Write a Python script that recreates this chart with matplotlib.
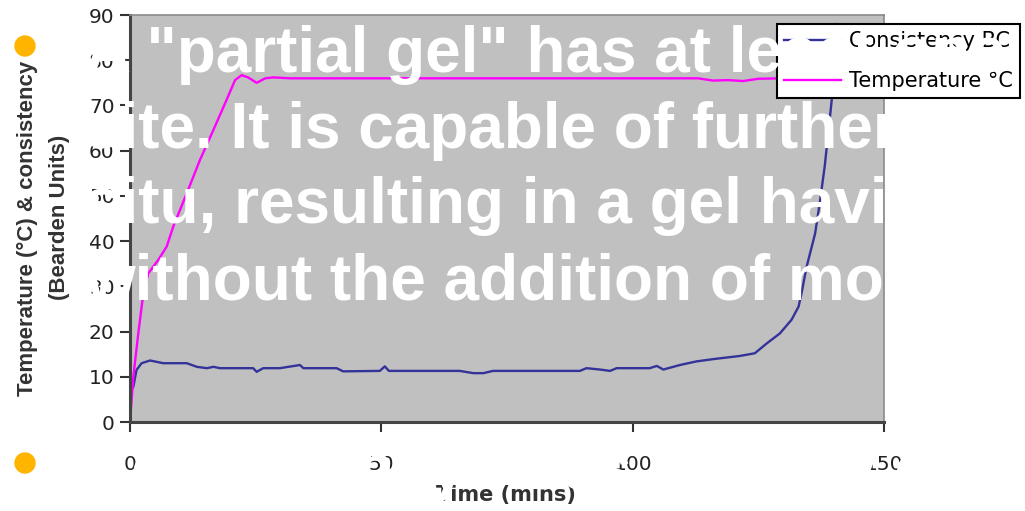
import matplotlib
matplotlib.use("Agg")
import matplotlib.pyplot as plt
from matplotlib.patches import Ellipse

# ---- data ----
temp_t = [0, 0.66, 1.65, 2.65, 3.65, 5.6, 7.3, 8.6, 11.3, 13.9, 16.6, 19.2, 20.9,
          22.2, 23.5, 25.2, 26.9, 28.5, 31.8, 60, 90, 113, 116, 119, 122, 125, 130, 140]
temp_v = [0, 10, 19.6, 28.4, 32.9, 35.8, 38.8, 43.2, 50.6, 57.9, 64.6, 71.2, 75.6,
          76.7, 76.2, 75.0, 76.0, 76.2, 76.0, 76.0, 76.0, 76.0, 75.5, 75.6, 75.4, 75.9, 76.0, 76.0]

cons_t = [0, 0.66, 1.3, 2.3, 4, 6.6, 11.3, 13.3, 15.3, 16.6, 17.9, 24.5, 25.2, 26.5,
          29.8, 33.8, 34.5, 41.1, 42.4, 49.7, 50.7, 51.5, 57.7, 65.6, 68.3, 70.3, 72.2,
          89.5, 90.8, 93.5, 95.5, 96.8, 103.4, 104.8, 106.1, 109.4, 112.7, 116.0, 119.0,
          121.3, 124.3, 126.7, 129.3, 131.6, 133.0, 133.6, 134.6, 136.3, 137.3, 138.2,
          138.9, 139.6, 140.4]
cons_v = [6.7, 7.8, 11.5, 13.0, 13.6, 13.0, 13.0, 12.2, 11.9, 12.2, 11.9, 11.9, 11.1, 11.9,
          11.9, 12.6, 11.9, 11.9, 11.2, 11.3, 12.3, 11.3, 11.3, 11.3, 10.8, 10.8, 11.3,
          11.3, 11.9, 11.6, 11.3, 11.9, 11.9, 12.4, 11.6, 12.6, 13.4, 13.9, 14.3,
          14.6, 15.2, 17.4, 19.6, 22.6, 25.5, 28.5, 34.3, 41.7, 49.1, 56.5,
          63.8, 71.2, 88]

x_ticks = [0, 50, 100, 150]
y_ticks = [0, 10, 20, 30, 40, 50, 60, 70, 80, 90]

bullet_lines = [
    'A "partial gel" has at least one unreacted cross-link',
    'site. It is capable of further cross-linking in',
    'situ, resulting in a gel having increased strength',
    'without the addition of more cross-linker.',
]
bullet2_text = 'Consistency rises sharply once gelation begins.'

W, H = 1025, 511
fig = plt.figure(figsize=(W / 100, H / 100), dpi=100)
fig.patch.set_facecolor("white")

# plot area (pixel box: x 130..884, y 15..422)
ax = fig.add_axes([130 / W, 1 - 422 / H, 754 / W, 407 / H])
ax.set_facecolor("#C0C0C0")
ax.plot(cons_t, cons_v, color="#333399", lw=1.7, label="Consistency BC")
ax.plot(temp_t, temp_v, color="#FF00FF", lw=1.7, label="Temperature °C")
ax.set_xlim(0, 150)
ax.set_ylim(0, 90)
ax.set_xticks(x_ticks)
ax.set_yticks(y_ticks)
ax.tick_params(axis="both", length=7, width=1.5, color="#333333", labelsize=14.5,
               labelcolor="#222222")
ax.tick_params(axis="y", pad=4)
ax.tick_params(axis="x", pad=17)
for side in ["left", "bottom"]:
    ax.spines[side].set_color("#444444")
    ax.spines[side].set_linewidth(2.2)
for side in ["top", "right"]:
    ax.spines[side].set_color("#8a8a8a")
    ax.spines[side].set_linewidth(1.2)

leg = ax.legend(loc="upper left", bbox_to_anchor=(777 / W, 1 - 24 / H),
                bbox_transform=fig.transFigure, frameon=True, fancybox=False,
                edgecolor="black", framealpha=1, labelspacing=0.95,
                handlelength=2.7, handletextpad=0.4, borderpad=0.35,
                borderaxespad=0, prop={"family": "DejaVu Sans", "size": 15})
leg.get_frame().set_linewidth(1.5)

# axis titles
fig.text(27 / W, 1 - 228 / H, "Temperature (°C) & consistency", rotation=90,
         ha="center", va="center", fontsize=16, weight="bold",
         family="Liberation Sans", color="#333333")
fig.text(60 / W, 1 - 217 / H, "(Bearden Units)", rotation=90,
         ha="center", va="center", fontsize=16, weight="bold",
         family="Liberation Sans", color="#333333")
fig.text(506 / W, 1 - 495 / H, "Time (mins)", ha="center", va="center",
         fontsize=15, weight="bold", family="DejaVu Sans", color="#333333")

# slide overlay: bullets and white text
for yb in [46, 463]:
    fig.patches.append(Ellipse((25 / W, 1 - yb / H), 20 / W, 20 / H,
                               transform=fig.transFigure, color="#FFB400", zorder=5))

baselines = [71.7, 148.3, 223.3, 300]
for yb, line in zip(baselines, bullet_lines):
    fig.text(85 / W, 1 - yb / H, line, ha="left", va="baseline",
             fontsize=46, weight="bold", family="Liberation Sans", color="white",
             zorder=10)
fig.text(85 / W, 1 - 489 / H, bullet2_text, ha="left", va="baseline",
         fontsize=46, weight="bold", family="Liberation Sans", color="white", zorder=10)

fig.savefig("out.png", dpi=100)
